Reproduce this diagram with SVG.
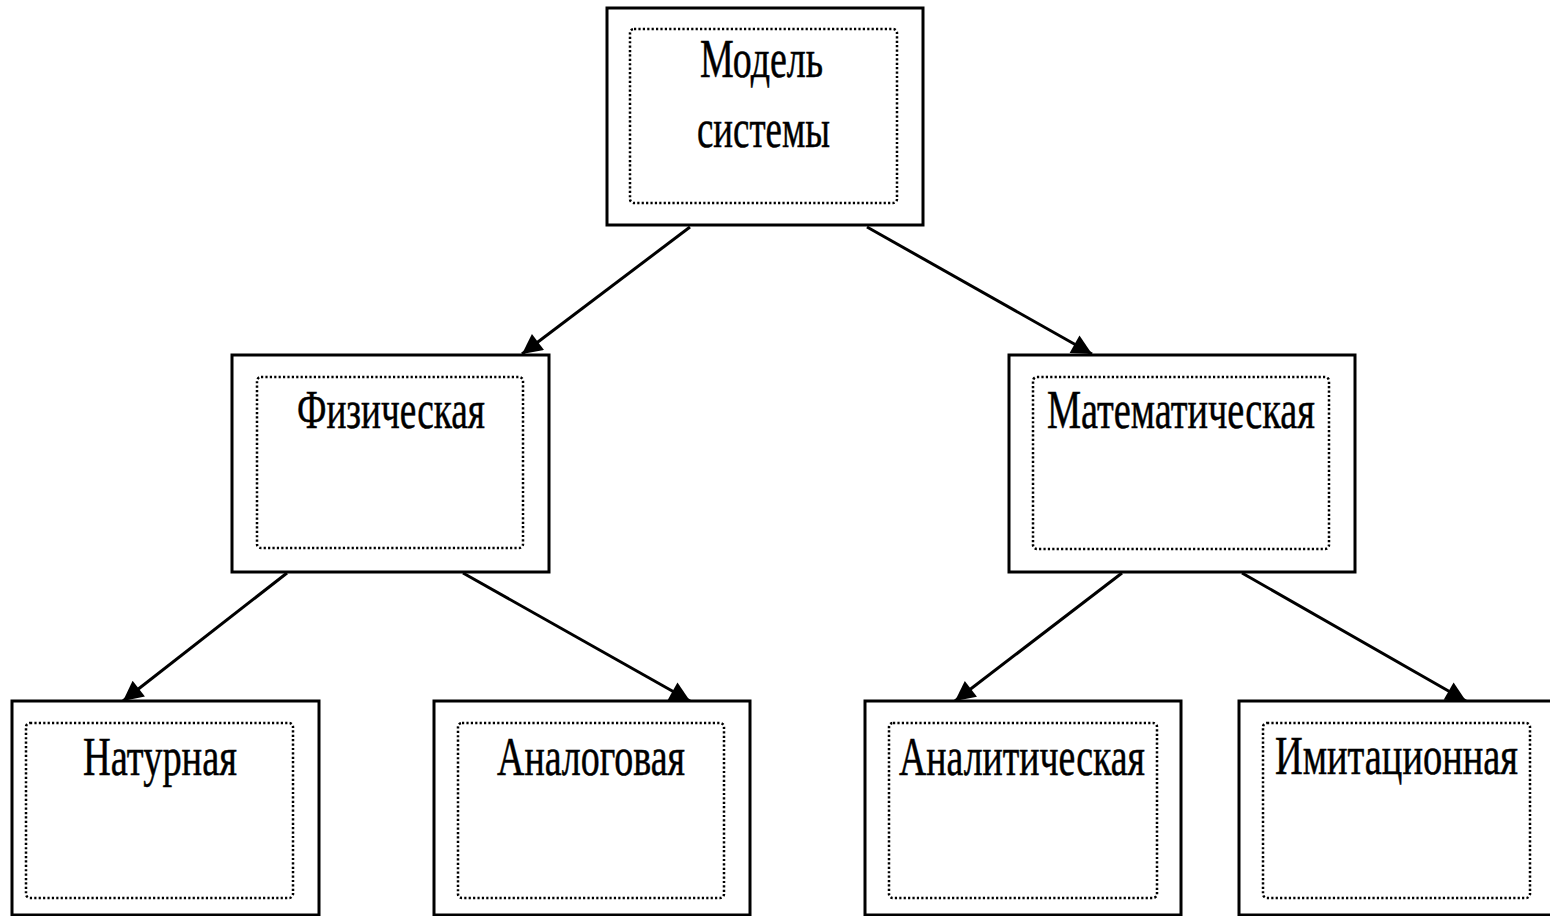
<svg xmlns="http://www.w3.org/2000/svg" width="1550" height="916" viewBox="0 0 1550 916">
<defs>
<style>
.outer{fill:#fff;stroke:#000;stroke-width:3}
.inner{fill:none;stroke:#000;stroke-width:2.5;stroke-dasharray:2.2 2.2}
.lbl{font-family:"Liberation Serif","DejaVu Serif",serif;font-size:54px;fill:#000;stroke:#000;stroke-width:0.5}
.conn{stroke:#000;stroke-width:3;fill:none;marker-end:url(#ah)}
</style>
<marker id="ah" viewBox="0 0 10 10" refX="10" refY="5" markerUnits="userSpaceOnUse" markerWidth="24" markerHeight="20" orient="auto">
<path d="M0,0 L10,5 L0,10 z" fill="#000"/>
</marker>
</defs>
<rect width="1550" height="916" fill="#fff"/>
<g id="connectors">
<line class="conn" x1="690" y1="227" x2="522" y2="354"/>
<line class="conn" x1="867" y1="227" x2="1092" y2="354"/>
<line class="conn" x1="287" y1="573" x2="123" y2="701"/>
<line class="conn" x1="463" y1="573" x2="690" y2="701"/>
<line class="conn" x1="1122" y1="573" x2="955" y2="701"/>
<line class="conn" x1="1242" y1="573" x2="1466" y2="701"/>
</g>
<g id="node-model">
<rect class="outer" x="607" y="8" width="316" height="217"/>
<rect class="inner" x="630" y="29" width="267" height="174" rx="4"/>
<text class="lbl" transform="scale(0.8,1)" x="875" y="77" textLength="153.75" lengthAdjust="spacingAndGlyphs">Модель</text>
<text class="lbl" transform="scale(0.8,1)" x="871.25" y="147" textLength="166.25" lengthAdjust="spacingAndGlyphs">системы</text>
</g>
<g id="node-phys">
<rect class="outer" x="232" y="355" width="317" height="217"/>
<rect class="inner" x="257" y="377" width="266" height="171" rx="4"/>
<text class="lbl" transform="scale(0.8,1)" x="371.25" y="428" textLength="235" lengthAdjust="spacingAndGlyphs">Физическая</text>
</g>
<g id="node-math">
<rect class="outer" x="1009" y="355" width="346" height="217"/>
<rect class="inner" x="1033" y="377" width="296" height="172" rx="4"/>
<text class="lbl" transform="scale(0.8,1)" x="1308.75" y="428" textLength="335" lengthAdjust="spacingAndGlyphs">Математическая</text>
</g>
<g id="node-nat">
<rect class="outer" x="12" y="701" width="307" height="214"/>
<rect class="inner" x="26" y="723" width="267" height="175" rx="4"/>
<text class="lbl" transform="scale(0.8,1)" x="103.75" y="775" textLength="192.5" lengthAdjust="spacingAndGlyphs">Натурная</text>
</g>
<g id="node-analog">
<rect class="outer" x="434" y="701" width="316" height="214"/>
<rect class="inner" x="458" y="723" width="266" height="175" rx="4"/>
<text class="lbl" transform="scale(0.8,1)" x="621.25" y="775" textLength="235" lengthAdjust="spacingAndGlyphs">Аналоговая</text>
</g>
<g id="node-analit">
<rect class="outer" x="865" y="701" width="316" height="214"/>
<rect class="inner" x="889" y="723" width="268" height="175" rx="4"/>
<text class="lbl" transform="scale(0.8,1)" x="1123.75" y="775" textLength="307.5" lengthAdjust="spacingAndGlyphs">Аналитическая</text>
</g>
<g id="node-imit">
<rect class="outer" x="1239" y="701" width="320" height="214"/>
<rect class="inner" x="1263" y="723" width="267" height="175" rx="4"/>
<text class="lbl" transform="scale(0.8,1)" x="1593.75" y="774" textLength="303.75" lengthAdjust="spacingAndGlyphs">Имитационная</text>
</g>
</svg>
